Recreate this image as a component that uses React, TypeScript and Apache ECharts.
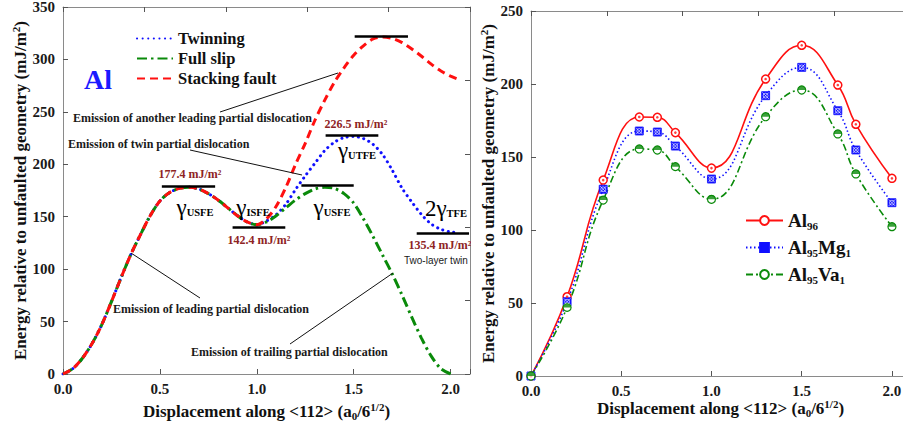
import React, { useEffect, useRef } from 'react';
import * as echarts from 'echarts';

const serif = 'Liberation Serif';
const sans = 'Liberation Sans';

// ---------- Left chart data ----------
const commonX = [0, 0.05, 0.1, 0.15, 0.2, 0.25, 0.3, 0.35, 0.4, 0.45, 0.5, 0.55, 0.6, 0.65, 0.7, 0.75, 0.8, 0.85, 0.9, 0.95, 1.0];
const commonY = [0, 5, 15, 29, 47, 69, 92, 114, 133, 151, 165, 173, 177, 178, 176.5, 172, 166, 158.5, 151, 145, 142.4];

const twinX = [1.05, 1.1, 1.15, 1.2, 1.25, 1.3, 1.35, 1.4, 1.45, 1.5, 1.55, 1.6, 1.65, 1.7, 1.75, 1.8, 1.85, 1.9, 1.95, 2.0, 2.03];
const twinY = [146, 152, 162, 176, 189, 201, 213, 221, 225.5, 226.5, 224.5, 219, 209, 194, 177, 164, 152, 143, 138, 135.4, 135];

const slipX = [1.05, 1.1, 1.15, 1.2, 1.25, 1.3, 1.35, 1.4, 1.45, 1.5, 1.55, 1.6, 1.65, 1.7, 1.75, 1.8, 1.85, 1.9, 1.95, 2.0];
const slipY = [145, 151, 158.5, 166, 172, 176.5, 178, 177, 172, 163, 148, 131, 113, 95, 75, 54, 34, 17, 5, 0];

const sfX = [1.05, 1.1, 1.15, 1.2, 1.25, 1.3, 1.35, 1.4, 1.45, 1.5, 1.55, 1.6, 1.65, 1.7, 1.75, 1.8, 1.85, 1.9, 1.95, 2.0, 2.04];
const sfY = [148, 160, 178, 200, 220, 242, 261, 278, 292, 304, 313, 319.5, 321.5, 320, 316, 310, 303, 295.5, 289, 284, 281];

// reference bars (level marks)
const barY = [179, 140, 180, 227.5, 322, 134];
const barX1 = [0.51, 0.875, 1.23, 1.355, 1.505, 1.825];
const barX2 = [0.785, 1.147, 1.5, 1.627, 1.78, 2.095];

const leftLegend = ['Twinning', 'Full slip', 'Stacking fault'];

// ---------- Right chart data ----------
const rightX = [0, 0.2, 0.4, 0.6, 0.7, 0.8, 1.0, 1.3, 1.5, 1.7, 1.8, 2.0];
const al96 = [0, 54.3, 134.2, 177.4, 177.2, 166.7, 142.4, 203.4, 226.5, 199.3, 172.4, 135.4];
const al95mg1 = [0, 50.9, 127.9, 167.8, 167.1, 157.5, 134.9, 192, 211.4, 181.7, 154.8, 118.7];
const al95va1 = [0, 47, 120.5, 155.5, 154.8, 143.4, 121, 177.6, 195.9, 165.8, 138.4, 102.3];

const xTicksMain = 0.5;
const xTicksTop = 0.42;

const zip = (xs: number[], ys: number[]) => xs.map((x, i) => [x, ys[i]]);

const RED = '#ff1010';
const BLUE = '#1010ff';
const GREEN = '#0a8a0a';
const DARKRED = '#8e2424';

const tickLabel = { fontFamily: serif, fontWeight: 'bold', fontSize: 15, color: '#1a1a1a' };
const nameStyle = {
  fontFamily: serif,
  fontWeight: 'bold',
  fontSize: 17,
  color: '#111',
  rich: {
    sub: { fontFamily: serif, fontWeight: 'bold', fontSize: 11, color: '#111', padding: [9, 0, 0, 0] },
    sup: { fontFamily: serif, fontWeight: 'bold', fontSize: 11, color: '#111', padding: [0, 0, 9, 0] },
  },
};
const X_NAME = 'Displacement along <112> (a{sub|0}/6{sup|1/2})';
const Y_NAME = 'Energy relative to unfaulted geometry (mJ/m{sup|2})';

const lineAx = { show: true, onZero: false, lineStyle: { color: '#8a8a8a', width: 1 } };
const tickAx = { show: true, inside: true, length: 5, lineStyle: { color: '#555', width: 1 } };

const xFmt = (v: number) => (Math.abs(v * 2 - Math.round(v * 2)) < 1e-6 ? v.toFixed(1) : '');

function makeAxes(yMax: number, yInt: number, yRightInt: number, xNameGap: number, yNameGap: number) {
  return {
    xAxis: [
      {
        type: 'value', min: 0, max: 2.1, interval: xTicksMain, position: 'bottom',
        name: X_NAME, nameLocation: 'middle', nameGap: xNameGap, nameTextStyle: nameStyle,
        nameMoveOverlap: false,
        axisLine: lineAx, axisTick: tickAx,
        axisLabel: { ...tickLabel, margin: 7, formatter: xFmt },
        splitLine: { show: false },
      },
      {
        type: 'value', min: 0, max: 2.1, interval: xTicksTop, position: 'top',
        axisLine: lineAx, axisTick: tickAx, axisLabel: { show: false }, splitLine: { show: false },
      },
    ],
    yAxis: [
      {
        type: 'value', min: 0, max: yMax, interval: yInt, position: 'left',
        name: Y_NAME, nameLocation: 'middle', nameGap: yNameGap, nameTextStyle: nameStyle,
        nameMoveOverlap: false,
        axisLine: lineAx, axisTick: tickAx,
        axisLabel: { ...tickLabel, margin: 8 },
        splitLine: { show: false },
      },
      {
        type: 'value', min: 0, max: yMax, interval: yRightInt, position: 'right',
        axisLine: lineAx, axisTick: tickAx, axisLabel: { show: false }, splitLine: { show: false },
      },
    ],
  };
}

const gammaRich = {
  g: { fontFamily: serif, fontSize: 23, color: '#111' },
  s: { fontFamily: serif, fontWeight: 'bold', fontSize: 10.5, color: '#111', padding: [11, 0, 0, 0] },
};

function gammaText(x: number, y: number, text: string) {
  return {
    type: 'text', x, y, silent: true, z: 10,
    style: { text, rich: gammaRich, align: 'center', verticalAlign: 'middle' },
  };
}
function valText(x: number, y: number, text: string) {
  return {
    type: 'text', x, y, silent: true, z: 10,
    style: { text, fontFamily: serif, fontWeight: 'bold', fontSize: 12, fill: DARKRED, align: 'center', verticalAlign: 'middle' },
  };
}
function noteText(x: number, y: number, text: string) {
  return {
    type: 'text', x, y, silent: true, z: 10,
    style: { text, fontFamily: serif, fontWeight: 'bold', fontSize: 12, fill: '#1a1a1a', align: 'left', verticalAlign: 'middle' },
  };
}
function leader(x1: number, y1: number, x2: number, y2: number) {
  return { type: 'line', silent: true, z: 10, shape: { x1, y1, x2, y2 }, style: { stroke: '#111', lineWidth: 1 } };
}

function leftOption() {
  const twin = zip(commonX, commonY).concat(zip(twinX, twinY));
  const slip = zip(commonX, commonY).concat(zip(slipX, slipY));
  const sf = zip(commonX, commonY).concat(zip(sfX, sfY));
  const bars = barY.map((y, i) => [
    { coord: [barX1[i], y], symbol: 'none' },
    { coord: [barX2[i], y], symbol: 'none' },
  ]);
  return {
    animation: false,
    grid: { left: 63, right: 1, top: 7, bottom: 51, outerBoundsMode: 'none' },
    legend: {
      data: leftLegend,
      orient: 'vertical', left: 136, top: 30, itemWidth: 36, itemHeight: 14, itemGap: 3, padding: 0,
      textStyle: { fontFamily: serif, fontWeight: 'bold', fontSize: 16.5, color: '#111' },
      itemStyle: { color: 'transparent', borderColor: 'transparent', borderWidth: 0 },
      selectedMode: false,
    },
    ...makeAxes(350, 50, 70, 27, 33),
    series: [
      {
        name: leftLegend[0], type: 'line', data: twin, symbol: 'none', smooth: 0.3,
        lineStyle: { color: BLUE, width: 3, type: [0.1, 5.5], cap: 'round' }, itemStyle: { color: BLUE },
      },
      {
        name: leftLegend[1], type: 'line', data: slip, symbol: 'none', smooth: 0.3,
        lineStyle: { color: GREEN, width: 3, type: [10, 4, 2.5, 4] }, itemStyle: { color: GREEN },
      },
      {
        name: leftLegend[2], type: 'line', data: sf, symbol: 'none', smooth: 0.3,
        lineStyle: { color: RED, width: 3, type: [8, 5] }, itemStyle: { color: RED },
        markLine: {
          silent: true, symbol: ['none', 'none'], label: { show: false },
          lineStyle: { color: '#000', width: 2.5, type: 'solid' },
          emphasis: { disabled: true },
          data: bars,
        },
      },
    ],
    graphic: [
      {
        type: 'text', x: 98, y: 79, silent: true,
        style: { text: 'Al', fontFamily: serif, fontWeight: 'bold', fontSize: 28, fill: '#1a1aff', align: 'center', verticalAlign: 'middle' },
      },
      valText(190, 174, '177.4 mJ/m²'),
      valText(259, 240, '142.4 mJ/m²'),
      valText(356, 124, '226.5 mJ/m²'),
      valText(440, 245, '135.4 mJ/m²'),
      gammaText(195, 207, '{g|γ}{s|USFE}'),
      gammaText(253, 207, '{g|γ}{s|ISFE}'),
      gammaText(332, 207, '{g|γ}{s|USFE}'),
      gammaText(357, 150, '{g|γ}{s|UTFE}'),
      gammaText(446, 208, '{g|2γ}{s|TFE}'),
      {
        type: 'text', x: 404, y: 260, silent: true, z: 10,
        style: { text: 'Two-layer twin', fontFamily: sans, fontWeight: 'normal', fontSize: 10, fill: '#1a1a1a', align: 'left', verticalAlign: 'middle' },
      },
      noteText(73, 118, 'Emission of another leading partial dislocation'),
      noteText(68, 144, 'Emission of twin partial dislocation'),
      noteText(113, 309, 'Emission of leading partial dislocation'),
      noteText(191, 352, 'Emission of trailing partial dislocation'),
      leader(220, 112, 338, 73),
      leader(190, 150, 302, 175),
      leader(200, 298, 131, 253),
      leader(290, 344, 393, 273),
    ],
  };
}

const rightNames = ['Al96', 'Al95Mg1', 'Al95Va1'];
const rightLabels: Record<string, string> = {
  Al96: '{a|Al}{s|96}',
  Al95Mg1: '{a|Al}{s|95}{a|Mg}{s|1}',
  Al95Va1: '{a|Al}{s|95}{a|Va}{s|1}',
};

function rightOption() {
  return {
    animation: false,
    grid: { left: 60, right: -7, top: 11, bottom: 49, outerBoundsMode: 'none' },
    legend: {
      data: rightNames,
      orient: 'vertical', left: 274, top: 211, itemWidth: 37, itemHeight: 11, itemGap: 7, padding: 0,
      selectedMode: false,
      formatter: (n: string) => rightLabels[n],
      textStyle: {
        fontFamily: serif, fontWeight: 'bold', fontSize: 19, color: '#111',
        rich: {
          a: { fontFamily: serif, fontWeight: 'bold', fontSize: 19, color: '#111' },
          s: { fontFamily: serif, fontWeight: 'bold', fontSize: 11, color: '#111', padding: [10, 0, 0, 0] },
        },
      },
    },
    ...makeAxes(250, 50, 50, 22, 33),
    series: [
      {
        name: rightNames[0], type: 'line', data: zip(rightX, al96), smooth: 0.45,
        symbol: 'circle', symbolSize: 8, showSymbol: true,
        lineStyle: { color: RED, width: 1.6, type: 'solid' },
        itemStyle: { color: '#fff', borderColor: RED, borderWidth: 1.5 },
      },
      {
        name: rightNames[1], type: 'line', data: zip(rightX, al95mg1), smooth: 0.45,
        symbol: 'rect', symbolSize: 8, showSymbol: true,
        lineStyle: { color: BLUE, width: 1.6, type: [1.5, 2.5] },
        itemStyle: { color: BLUE, borderColor: BLUE, borderWidth: 0.8 },
      },
      {
        name: rightNames[2], type: 'line', data: zip(rightX, al95va1), smooth: 0.45,
        symbol: 'circle', symbolSize: 8, showSymbol: true,
        lineStyle: { color: GREEN, width: 1.6, type: [7, 3, 2, 3] },
        itemStyle: { color: '#fff', borderColor: GREEN, borderWidth: 1.2 },
      },
      {
        name: 'dot96', type: 'scatter', data: zip(rightX, al96), symbol: 'circle', symbolSize: 2.6,
        itemStyle: { color: RED }, silent: true, z: 4,
      },
      {
        name: 'x95', type: 'scatter', data: zip(rightX, al95mg1),
        symbol: 'path://M1,1L9,9M9,1L1,9M8,5A3,3 0 1 1 2,5A3,3 0 1 1 8,5', symbolSize: 6.5,
        itemStyle: { color: 'transparent', borderColor: '#fff', borderWidth: 0.8 }, silent: true, z: 4,
      },
      {
        name: 'half95', type: 'scatter', data: zip(rightX, al95va1),
        symbol: 'path://M0,5A5,5 0 0 1 10,5Z', symbolSize: [8, 4], symbolOffset: [0, -2],
        itemStyle: { color: GREEN }, silent: true, z: 4,
      },
    ],
  };
}

export default function App() {
  const leftRef = useRef<HTMLDivElement>(null);
  const rightRef = useRef<HTMLDivElement>(null);
  useEffect(() => {
    document.body.style.margin = '0';
    const l = echarts.init(leftRef.current as HTMLDivElement, null, { renderer: 'svg' });
    const r = echarts.init(rightRef.current as HTMLDivElement, null, { renderer: 'svg' });
    l.setOption(leftOption() as any);
    r.setOption(rightOption() as any);
    return () => {
      l.dispose();
      r.dispose();
    };
  }, []);
  return (
    <div style={{ position: 'relative', width: 903, height: 425, background: '#fff', overflow: 'hidden' }}>
      <div ref={leftRef} style={{ position: 'absolute', left: 0, top: 0, width: 471, height: 425 }} />
      <div ref={rightRef} style={{ position: 'absolute', left: 471, top: 0, width: 432, height: 425 }} />
    </div>
  );
}
